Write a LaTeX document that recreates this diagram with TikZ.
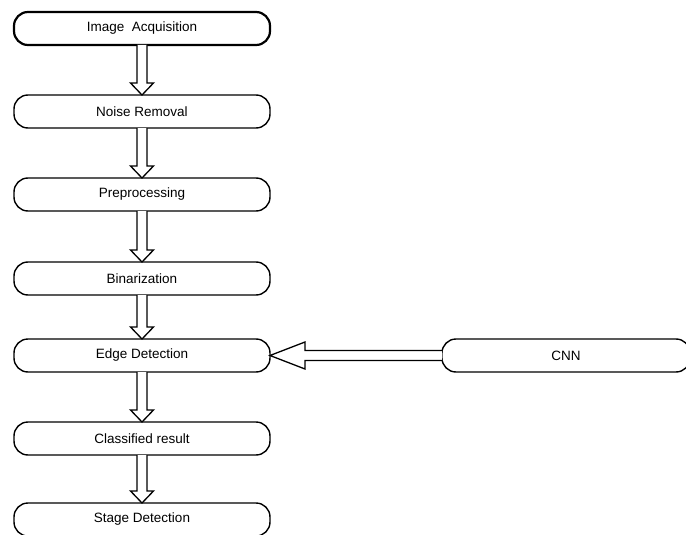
\documentclass[tikz,border=0pt]{standalone}
\usepackage{fontspec}
\setmainfont{Liberation Sans}
\usetikzlibrary{calc}
\newcommand{\vhollow}[2]{%
  \draw[hollow] ($(#1.south)+(-5pt,0pt)$) -- ($(#2.north)+(-5pt,12pt)$) -- ($(#2.north)+(-11.5pt,12pt)$) -- (#2.north) -- ($(#2.north)+(11.5pt,12pt)$) -- ($(#2.north)+(5pt,12pt)$) -- ($(#1.south)+(5pt,0pt)$);}
\begin{document}
\begin{tikzpicture}[x=1pt,y=-1pt,
  stepbox/.style={draw, line width=1.4pt, rounded corners=14pt, minimum width=256pt, minimum height=33pt, inner sep=0pt, outer sep=0pt, font=\fontsize{13.5}{15}\selectfont},
  hollow/.style={draw, line width=1.3pt, fill=white, line join=miter}]
\useasboundingbox (0,0) rectangle (686,535);
\node[stepbox, line width=2.2pt] (ia) at (142,28.5) {Image\ \ Acquisition};
\node[stepbox] (nr) at (142,111.5) {Noise Removal};
\node[stepbox] (pp) at (142,194.5) {Preprocessing};
\node[stepbox] (bi) at (142,278.5) {Binarization};
\node[stepbox] (ed) at (142,355.5) {Edge Detection};
\node[stepbox] (cr) at (142,438.5) {Classified result};
\node[stepbox] (sd) at (142,519.5) {Stage Detection};
\node[stepbox, minimum width=248pt] (cnn) at (566,355.5) {CNN};
\vhollow{ia}{nr}
\vhollow{nr}{pp}
\vhollow{pp}{bi}
\vhollow{bi}{ed}
\vhollow{ed}{cr}
\vhollow{cr}{sd}
\draw[hollow] ($(cnn.west)+(0pt,5pt)$) -- ($(ed.east)+(35pt,5pt)$) -- ($(ed.east)+(35pt,13.5pt)$) -- (ed.east) -- ($(ed.east)+(35pt,-13.5pt)$) -- ($(ed.east)+(35pt,-5pt)$) -- ($(cnn.west)+(0pt,-5pt)$);
\end{tikzpicture}
\end{document}
